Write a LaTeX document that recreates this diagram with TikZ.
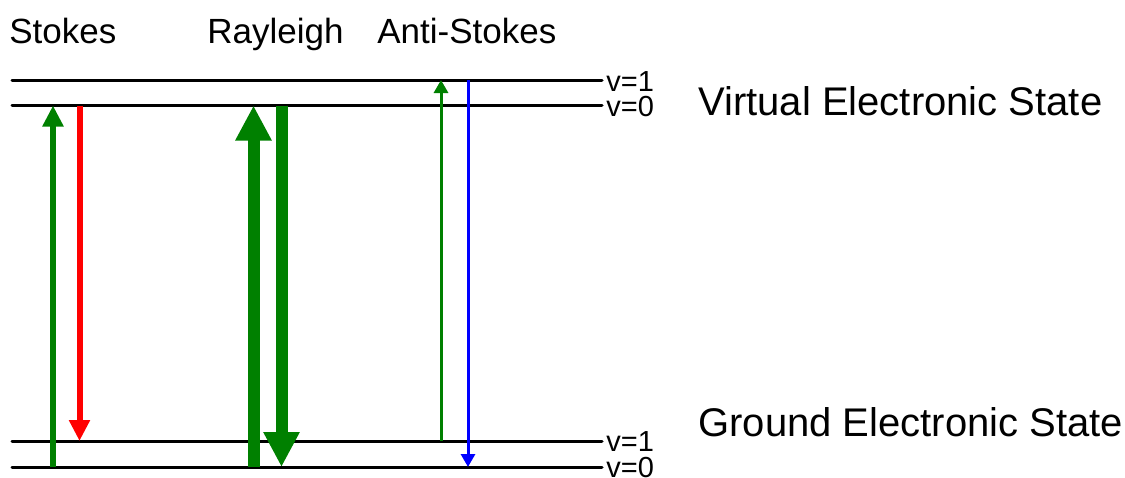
\documentclass[tikz,border=0pt]{standalone}
\usepackage{fontspec}
\setmainfont{Liberation Sans}
\usetikzlibrary{arrows.meta}
\definecolor{dgreen}{RGB}{0,128,0}
\tikzset{
  level/.style={line width=1.5pt, line cap=round},
  vlab/.style={anchor=base west, inner sep=0pt, font=\fontsize{14.5}{16}\selectfont},
  toplab/.style={anchor=base west, inner sep=0pt, font=\fontsize{17.5}{20}\selectfont},
  statelab/.style={anchor=base west, inner sep=0pt, font=\fontsize{20}{23}\selectfont},
  thin/.style={line width=1.5pt, -{Triangle[width=7pt,length=6.5pt]}},
  mid/.style={line width=3pt, -{Triangle[width=10pt,length=10.5pt]}},
  thick/.style={line width=6pt, -{Triangle[width=17pt,length=17.5pt]}},
}
\begin{document}
\begin{tikzpicture}[x=0.5pt,y=-0.5pt]
\useasboundingbox (0,0) rectangle (1125,477);
% level end points
\coordinate (V1a) at (12,80);    \coordinate (V1b) at (602,80);
\coordinate (V0a) at (12,105.5); \coordinate (V0b) at (602,105.5);
\coordinate (G1a) at (12,441);   \coordinate (G1b) at (602,441);
\coordinate (G0a) at (12,467);   \coordinate (G0b) at (602,467);
\draw[level] (V1a) -- (V1b);
\draw[level] (V0a) -- (V0b);
\draw[level] (G1a) -- (G1b);
\draw[level] (G0a) -- (G0b);
% level labels
\node[vlab] (lv1) at ([xshift=2pt,yshift=-5.5pt]V1b) {v=1};
\node[vlab] (lv0) at ([xshift=2pt,yshift=-5.5pt]V0b) {v=0};
\node[vlab] (lg1) at ([xshift=2pt,yshift=-5pt]G1b) {v=1};
\node[vlab] (lg0) at ([xshift=2pt,yshift=-5pt]G0b) {v=0};
\node[statelab] (vs) at (698,115) {Virtual Electronic State};
\node[statelab] (gs) at (698,436) {Ground Electronic State};
% column labels
\node[toplab] (st) at (9,43) {Stokes};
\node[toplab] (ra) at (207,43) {Rayleigh};
\node[toplab] (as) at (377,43) {Anti-Stokes};
% arrow columns
\coordinate (c1) at (53,0);
\coordinate (c2) at (79.5,0);
\coordinate (c3) at (253.5,0);
\coordinate (c4) at (281.5,0);
\coordinate (c5) at (441,0);
\coordinate (c6) at (468,0);
\draw[mid, dgreen] (c1 |- G0a) -- (c1 |- V0a);
\draw[mid, red] (c2 |- V0a) -- (c2 |- G1a);
\draw[thick, dgreen] (c3 |- G0a) -- (c3 |- V0a);
\draw[thick, dgreen] (c4 |- V0a) -- (c4 |- G0a);
\draw[thin, dgreen] (c5 |- G1a) -- (c5 |- V1a);
\draw[thin, blue] (c6 |- V1a) -- (c6 |- G0a);
\end{tikzpicture}
\end{document}
